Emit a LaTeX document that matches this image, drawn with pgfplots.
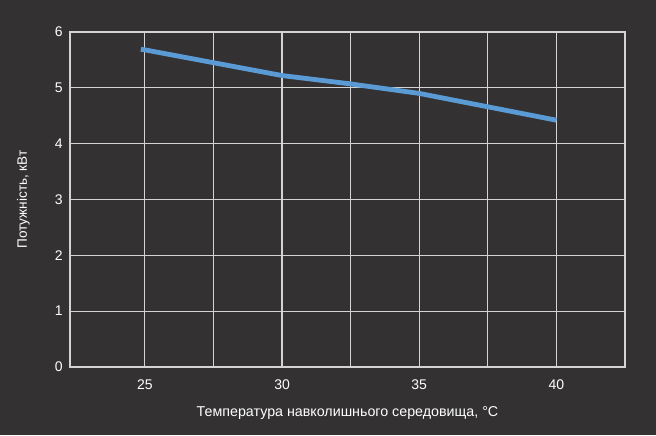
\documentclass[border=0pt]{standalone}
\usepackage{fontspec}
\setmainfont{Liberation Sans}
\usepackage{pgfplots}
\pgfplotsset{compat=1.18}
\definecolor{bg}{HTML}{333132}
\definecolor{gridc}{HTML}{D4D4D4}
\definecolor{linec}{HTML}{5B9BD5}
\begin{document}
\begin{tikzpicture}
\fill[bg] (0,0) rectangle (492pt,326.25pt);
\begin{axis}[
    at={(52.5pt,51pt)}, anchor=south west,
    scale only axis,
    width=416.25pt, height=251.25pt,
    xmin=22.27, xmax=42.5,
    ymin=0, ymax=6,
    xtick={25,30,35,40},
    minor xtick={27.5,32.5,37.5},
    ytick={0,1,2,3,4,5,6},
    xmajorgrids, xminorgrids, ymajorgrids,
    grid style={gridc, line width=0.9pt},
    minor grid style={gridc, line width=0.9pt},
    axis line style={gridc, line width=0.9pt},
    major tick length=0pt, minor tick length=0pt,
    tick style={draw=none},
    ticklabel style={text=white, font=\fontsize{10.5pt}{12pt}\selectfont},
    /pgf/number format/assume math mode=true,
    xticklabel style={yshift=-6pt},
    yticklabel style={xshift=-2pt},
    xlabel={Температура навколишнього середовища, °C},
    ylabel={Потужність, кВт},
    label style={text=white},
    xlabel style={yshift=-6pt, font=\fontsize{10.7pt}{12pt}\selectfont},
    ylabel style={yshift=12pt, font=\fontsize{10.2pt}{12pt}\selectfont},
]
\addplot[linec, line width=3.6pt, line cap=butt] coordinates {
    (24.85,5.69) (25,5.68) (27.5,5.45) (30,5.22) (32.5,5.07) (35,4.90) (37.5,4.66) (40,4.42)
};
\end{axis}
\end{tikzpicture}
\end{document}
